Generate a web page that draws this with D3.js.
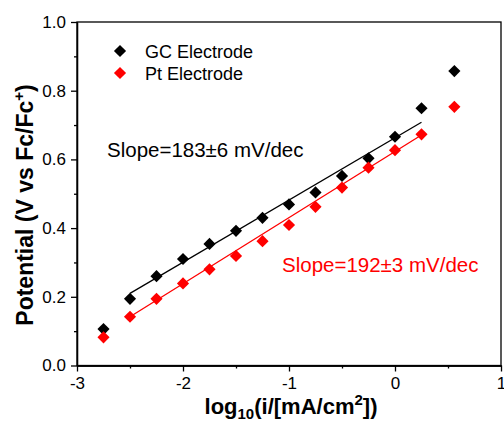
<!DOCTYPE html>
<html>
<head>
<meta charset="utf-8">
<script src="https://cdn.jsdelivr.net/npm/d3@7"></script>
<style>
  body { margin: 0; background: #fff; }
  svg { display: block; font-family: Arial, "Liberation Sans", sans-serif; }
</style>
</head>
<body>
<script>
// data
var logI = [-2.75, -2.5, -2.25, -2.0, -1.75, -1.5, -1.25, -1.0, -0.75, -0.5, -0.25, 0.0, 0.25, 0.56];
var gcPotential = [0.106, 0.194, 0.26, 0.31, 0.354, 0.392, 0.43, 0.469, 0.504, 0.552, 0.603, 0.666, 0.749, 0.857];
var ptPotential = [0.082, 0.142, 0.194, 0.239, 0.28, 0.319, 0.362, 0.409, 0.462, 0.518, 0.576, 0.627, 0.673, 0.753];

// linear fit end points
var fitX = [-2.5, 0.25];
var gcFit = [0.21, 0.708];
var ptFit = [0.142, 0.671];

var xTicks = [-3, -2, -1, 0, 1];
var xMinor = [-2.5, -1.5, -0.5, 0.5];
var yTicks = [0, 0.2, 0.4, 0.6, 0.8, 1.0];
var yMinor = [0.1, 0.3, 0.5, 0.7, 0.9];

var seriesNames = ["GC Electrode", "Pt Electrode"];
var seriesColors = ["#000000", "#ff0000"];

var width = 504, height = 434;
var margin = {top: 22, right: 3, bottom: 68.5, left: 77};

var svg = d3.select("body").append("svg")
  .attr("width", width)
  .attr("height", height);

var x = d3.scaleLinear().domain([-3, 1]).range([margin.left, width - margin.right]);
var y = d3.scaleLinear().domain([0, 1]).range([height - margin.bottom, margin.top]);

// frame
svg.append("rect")
  .attr("x", x(-3)).attr("y", y(1))
  .attr("width", x(1) - x(-3)).attr("height", y(0) - y(1))
  .attr("fill", "none").attr("stroke", "#000").attr("stroke-width", 1.3);

// axes (plain hyphen minus like the original)
svg.append("g")
  .attr("transform", `translate(0, ${y(0)})`)
  .call(d3.axisBottom(x).tickValues(xTicks).tickSize(6).tickSizeOuter(0).tickPadding(5).tickFormat(d => String(d)));
svg.append("g")
  .attr("transform", `translate(0, ${y(0)})`)
  .call(d3.axisBottom(x).tickValues(xMinor).tickSize(3).tickSizeOuter(0).tickFormat(""));

svg.append("g")
  .attr("transform", `translate(${x(-3)}, 0)`)
  .call(d3.axisLeft(y).tickValues(yTicks).tickSize(6).tickSizeOuter(0).tickPadding(5).tickFormat(d => d.toFixed(1)));
svg.append("g")
  .attr("transform", `translate(${x(-3)}, 0)`)
  .call(d3.axisLeft(y).tickValues(yMinor).tickSize(3).tickSizeOuter(0).tickFormat(""));

svg.selectAll(".domain").attr("stroke-width", 1.3);
svg.selectAll(".tick line").attr("stroke-width", 1.3);
svg.selectAll(".tick text")
  .style("font-family", "Arial, 'Liberation Sans', sans-serif")
  .style("font-size", "17px")
  .attr("fill", "#000");

// fit lines
var fitLine = d3.line().x(d => x(d[0])).y(d => y(d[1]));
[gcFit, ptFit].forEach(function(f, i) {
  svg.append("path")
    .datum(fitX.map((v, j) => [v, f[j]]))
    .attr("d", fitLine)
    .attr("fill", "none")
    .attr("stroke", seriesColors[i])
    .attr("stroke-width", 1.3);
});

// diamonds
var diamond = d3.symbol().type(d3.symbolSquare).size(74);
[gcPotential, ptPotential].forEach(function(vals, i) {
  svg.append("g").selectAll("path")
    .data(logI.map((v, j) => [v, vals[j]]))
    .enter()
    .append("path")
    .attr("d", diamond)
    .attr("transform", d => `translate(${x(d[0])}, ${y(d[1])}) rotate(45)`)
    .attr("fill", seriesColors[i]);
});

// legend
var legend = svg.append("g");
seriesNames.forEach(function(name, i) {
  var ly = 51 + i * 22;
  legend.append("path")
    .attr("d", diamond)
    .attr("transform", `translate(120, ${ly}) rotate(45)`)
    .attr("fill", seriesColors[i]);
  legend.append("text")
    .attr("x", 145).attr("y", ly + 6.5)
    .style("font-size", "18px")
    .text(name);
});

// slope notes
svg.append("text")
  .attr("x", 107).attr("y", 157)
  .style("font-size", "20.5px")
  .attr("fill", "#000")
  .text("Slope=183\u00b16 mV/dec");
svg.append("text")
  .attr("x", 282).attr("y", 272)
  .style("font-size", "20.5px")
  .attr("fill", "#ff0000")
  .text("Slope=192\u00b13 mV/dec");

// axis titles
var xt = svg.append("text")
  .attr("x", 291).attr("y", 414)
  .attr("text-anchor", "middle")
  .style("font-size", "22px")
  .style("font-weight", "bold");
xt.append("tspan").text("log");
xt.append("tspan").attr("dy", 5).style("font-size", "15px").text("10");
xt.append("tspan").attr("dy", -5).text("(i/[mA/cm");
xt.append("tspan").attr("dy", -9).style("font-size", "15px").text("2");
xt.append("tspan").attr("dy", 9).text("])");

var yt = svg.append("text")
  .attr("transform", "translate(33, 205) rotate(-90)")
  .attr("text-anchor", "middle")
  .style("font-size", "23px")
  .style("font-weight", "bold");
yt.append("tspan").text("Potential (V vs Fc/Fc");
yt.append("tspan").attr("dy", -9).style("font-size", "15px").text("+");
yt.append("tspan").attr("dy", 9).text(")");
</script>
</body>
</html>
